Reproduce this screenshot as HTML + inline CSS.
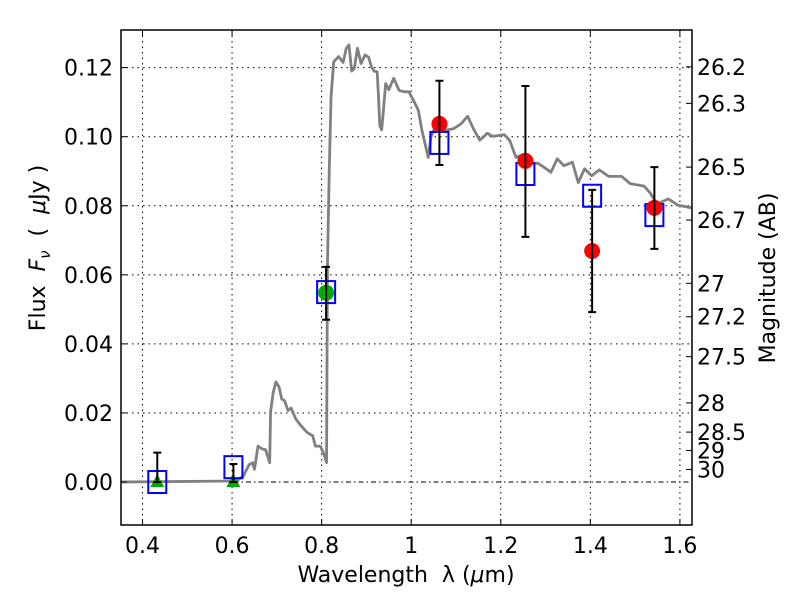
<!DOCTYPE html>
<html><head><meta charset="utf-8"><style>
body{margin:0;background:#fff;}
svg{display:block;font-family:"DejaVu Sans","Liberation Sans",sans-serif;}
text{white-space:pre;}
</style></head><body>
<svg id="chart" width="800" height="600" viewBox="0 0 800 600" xmlns="http://www.w3.org/2000/svg">
<rect width="800" height="600" fill="#fff"/>
<g id="grid"></g>
<g id="series"></g>
<g id="axes"></g>
<text x="406" y="582" font-size="22" text-anchor="middle" xml:space="preserve">Wavelength  λ (<tspan font-style="italic">μ</tspan>m)</text>
<text transform="translate(45,248) rotate(-90)" font-size="22" text-anchor="middle" xml:space="preserve">Flux  <tspan font-style="italic">F</tspan><tspan font-style="italic" font-size="15" dy="5">ν</tspan><tspan dy="-5">  (  </tspan><tspan font-style="italic">μ</tspan>Jy )</text>
<text transform="translate(775,278) rotate(-90)" font-size="22" text-anchor="middle">Magnitude (AB)</text>
</svg>
<script>
const specWave=[0.35,0.61,0.625,0.638,0.646,0.650,0.658,0.667,0.675,0.684,0.686,0.692,0.698,0.705,0.711,0.717,0.725,0.732,0.742,0.754,0.767,0.780,0.786,0.797,0.805,0.811,0.813,0.817,0.821,0.827,0.838,0.848,0.855,0.861,0.867,0.873,0.880,0.888,0.897,0.905,0.911,0.917,0.924,0.927,0.930,0.934,0.938,0.943,0.950,0.961,0.973,0.985,0.995,1.007,1.016,1.024,1.031,1.038,1.044,1.053,1.073,1.094,1.111,1.126,1.139,1.153,1.170,1.182,1.208,1.220,1.234,1.249,1.266,1.283,1.297,1.312,1.326,1.341,1.360,1.373,1.387,1.403,1.420,1.441,1.470,1.489,1.520,1.533,1.549,1.574,1.595,1.641];
const specFlux=[0,0.0003,0.0017,0.005,0.0056,0.0037,0.0104,0.0096,0.0093,0.0056,0.0203,0.026,0.029,0.0275,0.024,0.0236,0.0207,0.0214,0.0183,0.0163,0.0144,0.0134,0.0104,0.0104,0.0081,0.0056,0.063,0.090,0.1115,0.1217,0.1232,0.1215,0.1256,0.1266,0.119,0.1198,0.1256,0.1212,0.1237,0.123,0.1203,0.119,0.1188,0.1115,0.1032,0.102,0.1076,0.1154,0.1136,0.1169,0.1134,0.113,0.113,0.110,0.1076,0.1018,0.0979,0.094,0.0999,0.1028,0.1018,0.1023,0.1037,0.1059,0.1023,0.099,0.101,0.1001,0.1006,0.0989,0.094,0.0948,0.0923,0.0923,0.0911,0.0897,0.0936,0.0916,0.0926,0.0867,0.0907,0.0887,0.0904,0.0885,0.0885,0.0864,0.0857,0.0838,0.0805,0.082,0.0802,0.079];
const redWave=[1.063,1.255,1.404,1.543];
const redFlux=[0.1037,0.093,0.0669,0.0794];
const redErrLo=[0.0918,0.071,0.0492,0.0675];
const redErrHi=[0.1162,0.1147,0.0846,0.0912];
const greenWave=[0.81];
const greenFlux=[0.0548];
const greenErrLo=[0.047];
const greenErrHi=[0.0623];
const triWave=[0.433,0.603];
const triFlux=[0,0];
const triErrHi=[0.0085,0.0052];
const sqWave=[0.433,0.603,0.81,1.063,1.255,1.404,1.543];
const sqFlux=[0,0.0043,0.055,0.0982,0.0892,0.0829,0.0773];
const xTicks=[0.4,0.6,0.8,1.0,1.2,1.4,1.6];
const xTickLabels=["0.4","0.6","0.8","1","1.2","1.4","1.6"];
const yTicks=[0,0.02,0.04,0.06,0.08,0.10,0.12];
const yTickLabels=["0.00","0.02","0.04","0.06","0.08","0.10","0.12"];
const magTicks=[26.2,26.3,26.5,26.7,27,27.2,27.5,28,28.5,29,30];
const magTickLabels=["26.2","26.3","26.5","26.7","27","27.2","27.5","28","28.5","29","30"];

const L=121,R=692,T=30,B=525;
const X0=0.352,X1=1.627,Y0=-0.01245,Y1=0.1309;
const xs=v=>L+(v-X0)/(X1-X0)*(R-L);
const ys=v=>B-(v-Y0)/(Y1-Y0)*(B-T);
const NS="http://www.w3.org/2000/svg";
function mk(tag,attrs,parent){const e=document.createElementNS(NS,tag);for(const k in attrs)e.setAttribute(k,attrs[k]);parent.appendChild(e);return e;}
const grid=document.getElementById('grid'),ser=document.getElementById('series'),ax=document.getElementById('axes');
const clip=mk('clipPath',{id:'pc'},document.getElementById('chart'));
mk('rect',{x:L,y:T,width:R-L,height:B-T},clip);
ser.setAttribute('clip-path','url(#pc)');

xTicks.forEach((v,i)=>{
  const g=mk('line',{x1:xs(v),x2:xs(v),y1:T,y2:B,stroke:'#000','stroke-width':1,'stroke-dasharray':'1.5,4'},grid);
  
  
  const t1=mk('line',{x1:xs(v),x2:xs(v),y1:B,y2:B-6,stroke:'#000'},ax);
  
  
  const t2=mk('line',{x1:xs(v),x2:xs(v),y1:T,y2:T+6,stroke:'#000'},ax);
  
  
  const tx=mk('text',{x:xs(v),y:553,'font-size':22,'text-anchor':'middle'},ax);
  tx.textContent=xTickLabels[i];
  
  
});
yTicks.forEach((v,i)=>{
  if(v!==0){
    const g=mk('line',{x1:L,x2:R,y1:ys(v),y2:ys(v),stroke:'#000','stroke-width':1,'stroke-dasharray':'1.5,4'},grid);
    
    
  }
  const t=mk('line',{x1:L,x2:L+6,y1:ys(v),y2:ys(v),stroke:'#000'},ax);
  
  
  const tx=mk('text',{x:113,y:ys(v)+8,'font-size':22,'text-anchor':'end'},ax);
  tx.textContent=yTickLabels[i];
  
  
});
magTicks.forEach((m,i)=>{
  const f=Math.pow(10,(23.9-m)/2.5);
  const t=mk('line',{x1:R,x2:R-6,y1:ys(f),y2:ys(f),stroke:'#000'},ax);
  
  
  const tx=mk('text',{x:697,y:ys(f)+8,'font-size':22},ax);
  tx.textContent=magTickLabels[i];
  
  
});
const zl=mk('line',{x1:L,x2:R,y1:ys(0),y2:ys(0),stroke:'#000','stroke-width':1,'stroke-dasharray':'5,3,1.5,3'},grid);



const sp=mk('polyline',{points:specWave.map((w,i)=>xs(w)+','+ys(specFlux[i])).join(' '),fill:'none',stroke:'#808080','stroke-width':2.8,'stroke-linejoin':'round'},ser);



function errbar(w,lo,hi){
  const x=xs(w);
  const e=mk('path',{d:`M${x},${ys(lo)}V${ys(hi)}M${x-4},${ys(lo)}h8M${x-4},${ys(hi)}h8`,stroke:'#000','stroke-width':2,fill:'none'},ser);
  
  
}
triWave.forEach((w,i)=>{
  const x=xs(w),y=ys(triFlux[i]);
  const tr=mk('polygon',{points:`${x},${y-8} ${x-7},${y+5} ${x+7},${y+5}`,fill:'#00aa00'},ser);
  
  
});
sqWave.forEach((w,i)=>{
  const x=xs(w),y=ys(sqFlux[i]);
  const s=mk('rect',{x:x-9,y:y-11,width:18,height:22,fill:'none',stroke:'#0000ff','stroke-width':2},ser);
  
  
});
redWave.forEach((w,i)=>{
  const c=mk('circle',{cx:xs(w),cy:ys(redFlux[i]),r:8,fill:'#ff0000'},ser);
  
  
});
greenWave.forEach((w,i)=>{
  const c=mk('circle',{cx:xs(w),cy:ys(greenFlux[i]),r:8,fill:'#00aa00'},ser);
  
  
});
triWave.forEach((w,i)=>errbar(w,triFlux[i],triErrHi[i]));
greenWave.forEach((w,i)=>errbar(w,greenErrLo[i],greenErrHi[i]));
redWave.forEach((w,i)=>errbar(w,redErrLo[i],redErrHi[i]));

const fr=mk('rect',{x:L,y:T,width:R-L,height:B-T,fill:'none',stroke:'#000','stroke-width':1.5},ax);


</script>
</body></html>
